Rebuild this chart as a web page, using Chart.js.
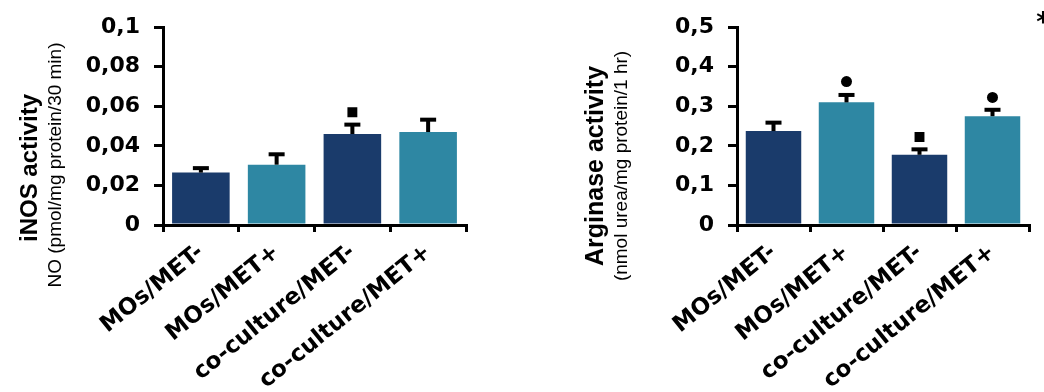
<!DOCTYPE html>
<html><head><meta charset="utf-8">
<script src="https://cdn.jsdelivr.net/npm/chart.js@4.4.1/dist/chart.umd.min.js"></script>
<style>
html,body{margin:0;padding:0;background:#fff;}
#wrap{display:flex;width:1044px;height:392px;}
.box{position:relative;width:522px;height:392px;}
</style></head><body>
<div id="wrap"><div class="box"><canvas id="c1"></canvas></div><div class="box"><canvas id="c2"></canvas></div></div>
<script>
const categories = ['MOs/MET-', 'MOs/MET+', 'co-culture/MET-', 'co-culture/MET+'];

const inosValues = [0.0265, 0.0305, 0.046, 0.047];
const inosErrors = [0.0025, 0.0055, 0.005, 0.0065];
const inosMarkers = [null, null, 0.057, null];
const inosTickLabels = ['0', '0,02', '0,04', '0,06', '0,08', '0,1'];

const argValues = [0.2375, 0.31, 0.1775, 0.275];
const argErrors = [0.0225, 0.02, 0.015, 0.0175];
const argMarkers = [null, 0.3625, 0.2225, 0.3225];
const argTickLabels = ['0', '0,1', '0,2', '0,3', '0,4', '0,5'];

const markerStyles = ['circle', 'circle', 'rect', 'circle'];
const markerRadii = [5.5, 5.5, 7, 5.5];
const barColors = ['#1a3b6b', '#2e87a3', '#1a3b6b', '#2e87a3'];

const errorBars = {
  id: 'errorBars',
  afterDatasetsDraw(chart, args, opts) {
    const meta = chart.getDatasetMeta(0);
    const y = chart.scales.y;
    const ctx = chart.ctx;
    const vals = chart.data.datasets[0].data;
    ctx.save();
    ctx.fillStyle = '#000';
    meta.data.forEach((bar, i) => {
      const top = y.getPixelForValue(vals[i] + opts.errors[i]);
      ctx.fillRect(bar.x - 2, top, 4, bar.y - top);
      ctx.fillRect(bar.x - 8, top - 1.5, 16, 4);
    });
    ctx.restore();
  }
};

const textPlugin = {
  id: 'extraText',
  afterDraw(chart, args, opts) {
    const ctx = chart.ctx;
    (opts.items || []).forEach(t => {
      ctx.save();
      ctx.translate(t.x, t.y);
      ctx.rotate(t.rot || 0);
      ctx.font = t.font;
      ctx.fillStyle = '#000';
      ctx.textAlign = 'center';
      ctx.textBaseline = 'middle';
      ctx.fillText(t.text, 0, 0);
      ctx.restore();
    });
  }
};

function makeChart(id, values, errors, markers, tickLabels, yMax, step, yAxisWidth, padRight, titles) {
  return new Chart(document.getElementById(id), {
    type: 'bar',
    data: {
      labels: categories,
      datasets: [
        {
          type: 'bar',
          data: values,
          backgroundColor: barColors,
          borderWidth: 0,
          barPercentage: 0.76,
          categoryPercentage: 1.0,
          order: 2
        },
        {
          type: 'line',
          data: markers,
          showLine: false,
          pointStyle: markerStyles,
          pointRadius: markerRadii,
          pointBackgroundColor: '#000',
          pointBorderColor: '#000',
          pointBorderWidth: 0,
          order: 1
        }
      ]
    },
    options: {
      responsive: true,
      maintainAspectRatio: false,
      animation: false,
      events: [],
      layout: { padding: { top: 25, right: padRight, bottom: 0, left: 0 } },
      plugins: {
        legend: { display: false },
        tooltip: { enabled: false },
        errorBars: { errors: errors },
        extraText: { items: titles }
      },
      scales: {
        x: {
          type: 'category',
          offset: true,
          grid: { display: true, drawOnChartArea: false, drawTicks: true, tickLength: 7, color: '#000', lineWidth: 3, offset: true },
          border: { display: true, color: '#000', width: 3 },
          ticks: {
            color: '#000',
            font: { family: 'DejaVu Sans', weight: 'bold', size: 23 },
            maxRotation: 39, minRotation: 39, autoSkip: false, padding: 7
          },
          afterFit(axis) { axis.height = 167; }
        },
        y: {
          min: 0, max: yMax,
          grid: { display: true, drawOnChartArea: false, drawTicks: true, tickLength: 9, color: '#000', lineWidth: 3 },
          border: { display: true, color: '#000', width: 3 },
          ticks: {
            stepSize: step,
            color: '#000',
            font: { family: 'DejaVu Sans', weight: 'bold', size: 22 },
            padding: 14,
            callback: (v, i) => tickLabels[i]
          },
          afterFit(axis) { axis.width = yAxisWidth; }
        }
      }
    },
    plugins: [errorBars, textPlugin]
  });
}

makeChart('c1', inosValues, inosErrors, inosMarkers, inosTickLabels, 0.1, 0.02, 163, 56, [
  { text: 'iNOS activity', x: 30, y: 168, rot: -Math.PI / 2, font: 'bold 24px "Liberation Sans"' },
  { text: 'NO (pmol/mg protein/30 min)', x: 56, y: 165, rot: -Math.PI / 2, font: '19px "Liberation Sans"' }
]);

makeChart('c2', argValues, argErrors, argMarkers, argTickLabels, 0.5, 0.1, 215, 15, [
  { text: 'Arginase activity', x: 74, y: 166, rot: -Math.PI / 2, font: 'bold 25px "Liberation Sans"' },
  { text: '(nmol urea/mg protein/1 hr)', x: 100, y: 166, rot: -Math.PI / 2, font: '19px "Liberation Sans"' },
  { text: '*', x: 521, y: 24, rot: 0, font: 'bold 26px "DejaVu Sans"' }
]);
</script>
</body></html>
